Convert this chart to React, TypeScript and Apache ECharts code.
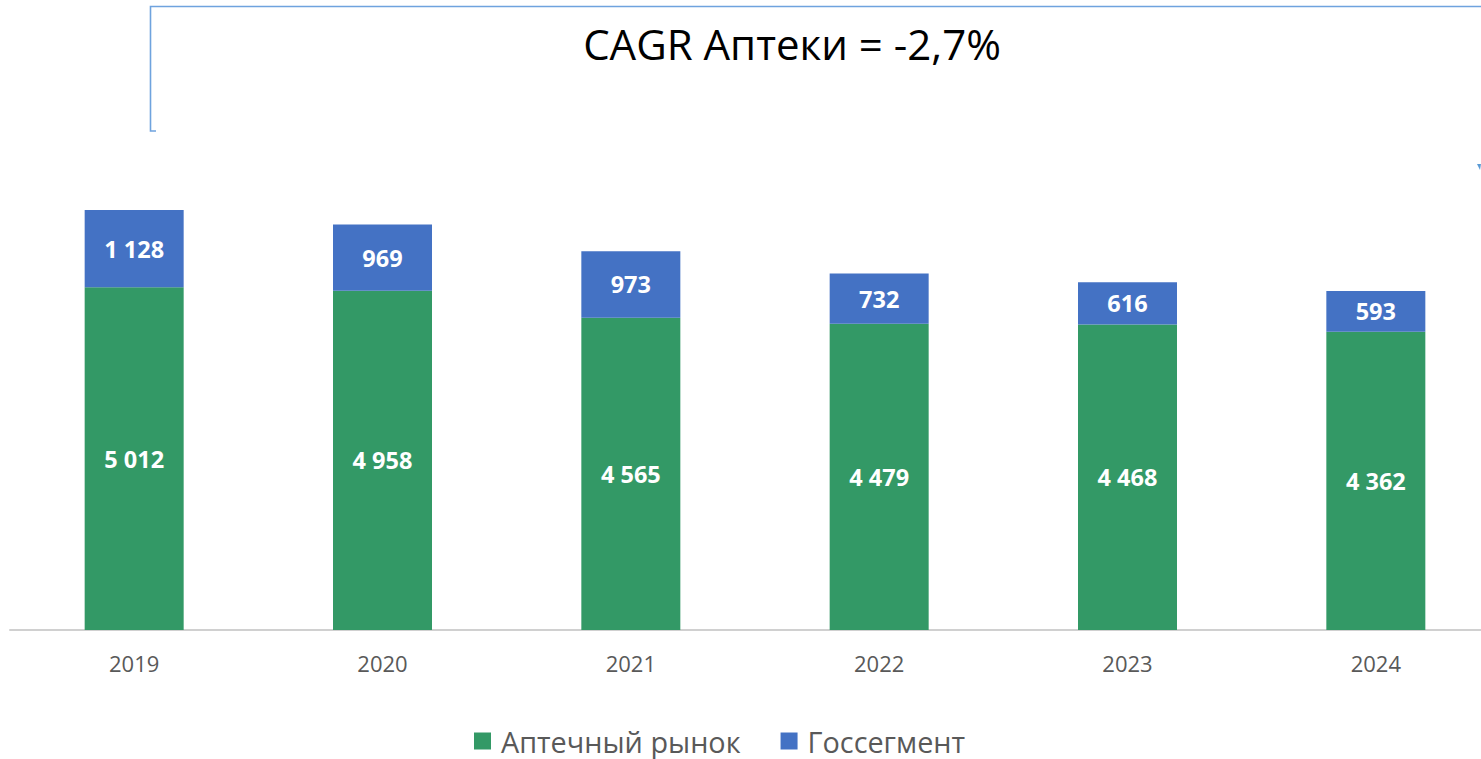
import React, { useEffect, useRef } from "react";
import * as echarts from "echarts";

const years = ["2019", "2020", "2021", "2022", "2023", "2024"];
const pharmacyMarket = [5012, 4958, 4565, 4479, 4468, 4362];
const govSegment = [1128, 969, 973, 732, 616, 593];
const seriesNames = ["Аптечный рынок", "Госсегмент"];
const titleText = "CAGR Аптеки = -2,7%";

const fmt = (v: number) => String(v).replace(/\B(?=(\d{3})+(?!\d))/g, " ");

export default function App() {
  const ref = useRef<HTMLDivElement>(null);
  useEffect(() => {
    if (!ref.current) return;
    const chart = echarts.init(ref.current, null, { renderer: "svg" });
    const labelStyle = {
      show: true,
      position: "inside" as const,
      color: "#ffffff",
      fontFamily: "Open Sans",
      fontWeight: "bold" as const,
      fontSize: 23.5,
      formatter: (p: any) => fmt(p.value),
    };
    chart.setOption({
      animation: false,
      backgroundColor: "#ffffff",
      title: {
        text: titleText,
        left: 787,
        textAlign: "center",
        top: 17,
        textStyle: {
          fontFamily: "Open Sans",
          fontWeight: "normal",
          fontSize: 42,
          color: "#000000",
        },
      },
      graphic: [
        {
          type: "polyline",
          shape: { points: [[156, 131], [150.5, 131], [150.5, 6.5], [1481, 6.5]] },
          style: { stroke: "#6FA3DE", lineWidth: 1.6, fill: "none" },
          silent: true,
        },
        {
          type: "polygon",
          shape: { points: [[1477, 164], [1481, 164], [1480, 170]] },
          style: { fill: "#5B9BD5" },
          silent: true,
        },
      ],
      legend: {
        data: seriesNames,
        left: 469,
        top: 721,
        itemWidth: 17,
        itemHeight: 17,
        itemGap: 40,
        icon: "rect",
        textStyle: {
          fontFamily: "Open Sans",
          fontSize: 28.8,
          lineHeight: 30,
          color: "#595959",
          padding: [0, 0, 0, 5],
        },
      },
      grid: { left: 10, right: 0, top: 151.2, bottom: 129, containLabel: false },
      xAxis: {
        type: "category",
        data: years,
        axisLine: { show: true, lineStyle: { color: "#d0d0d0", width: 2 } },
        axisTick: { show: false },
        axisLabel: {
          color: "#595959",
          fontFamily: "Open Sans",
          fontSize: 22,
          margin: 22,
        },
      },
      yAxis: {
        type: "value",
        min: 0,
        max: 7000,
        show: false,
        splitLine: { show: false },
      },
      series: [
        {
          name: seriesNames[0],
          type: "bar",
          stack: "total",
          data: pharmacyMarket,
          barWidth: 99,
          itemStyle: { color: "#339966" },
          label: labelStyle,
        },
        {
          name: seriesNames[1],
          type: "bar",
          stack: "total",
          data: govSegment,
          barWidth: 99,
          itemStyle: { color: "#4472C4" },
          label: labelStyle,
        },
      ],
    });
    return () => chart.dispose();
  }, []);
  return (
    <div style={{ position: "fixed", left: 0, top: 0, width: 1481, height: 759, overflow: "hidden" }}>
      <div ref={ref} style={{ position: "absolute", left: 0, top: 0, width: 1500, height: 759 }} />
    </div>
  );
}
